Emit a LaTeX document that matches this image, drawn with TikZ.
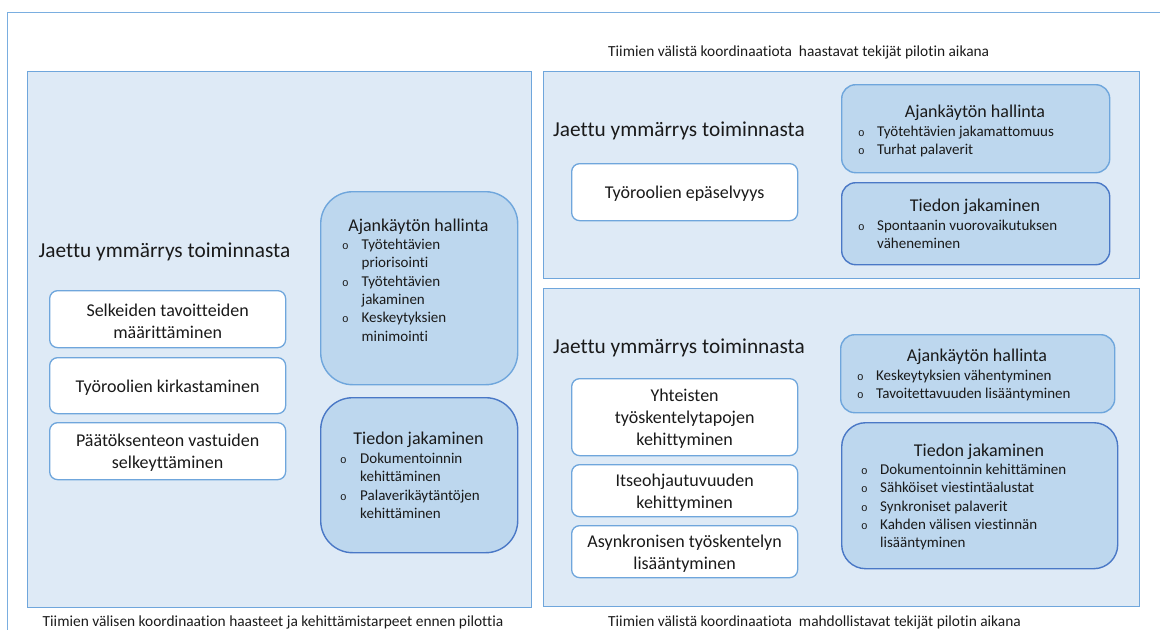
\documentclass[tikz,border=0pt]{standalone}
\usepackage{fontspec}
\setmainfont{Carlito}[Ligatures=NoCommon]
\newfontfamily\bulfont{Liberation Mono}

\definecolor{frameline}{HTML}{7AAEE0}
\definecolor{panelfill}{HTML}{DEEAF6}
\definecolor{panelline}{HTML}{6FA6DC}
\definecolor{boxfill}{HTML}{BDD7EE}
\definecolor{aline}{HTML}{6FA6DC}
\definecolor{tline}{HTML}{4A78C6}
\definecolor{wline}{HTML}{6FA6DC}
\definecolor{ink}{HTML}{1A1A1A}

% bullet of the sub-lists, followed by the indent of the item text
\newcommand{\bl}[1][19pt]{\makebox[#1][l]{\bulfont\fontsize{11}{11}\selectfont o}}

\tikzset{
  panel/.style={draw=panelline, fill=panelfill, line width=1.4pt, inner sep=0pt, anchor=north west},
  wbox/.style={draw=wline, fill=white, line width=1.3pt, rounded corners=8pt, inner sep=0pt, anchor=north west},
  abox/.style={draw=aline, fill=boxfill, line width=1.4pt, inner sep=0pt, anchor=north west},
  tbox/.style={draw=tline, fill=boxfill, line width=1.4pt, inner sep=0pt, anchor=north west},
  caption/.style={font=\fontsize{15.4}{18}\selectfont, text=ink, inner sep=0pt, anchor=base west},
  bigtitle/.style={font=\fontsize{21.3}{25}\selectfont, text=ink, inner sep=0pt, anchor=base west},
  wtext/.style={font=\fontsize{18}{22}\selectfont, text=ink, align=center, inner sep=0pt, yshift=-2pt},
  boxhead/.style={font=\fontsize{18}{22}\selectfont, text=ink, inner sep=0pt, anchor=base},
  blist/.style={font=\fontsize{15}{18.3}\selectfont, text=ink, inner sep=0pt, anchor=base west},
}

\begin{document}
\begin{tikzpicture}[x=1pt,y=-1pt]
\useasboundingbox (0,0) rectangle (1160,630);

% outer frame, running off the right and bottom edges
\coordinate (ftr) at (1160,12.5);
\coordinate (ftl) at (7.5,12.5);
\coordinate (fbl) at (7.5,630);
\draw[frameline, line width=1.5pt] (ftr) -- (ftl) -- (fbl);

% captions
\node[caption] (captop) at (608,56.5) {Tiimien välistä koordinaatiota\ \ haastavat tekijät pilotin aikana};
\node[caption] (capbl) at (42.5,626) {Tiimien välisen koordinaation haasteet ja kehittämistarpeet ennen pilottia};
\node[caption] (capbr) at (608,626) {Tiimien välistä koordinaatiota\ \ mahdollistavat tekijät pilotin aikana};

% ---------------- left panel: before the pilot ----------------
\node[panel, minimum width=504pt, minimum height=536pt] (lp) at (27,71) {};
\node[bigtitle] (lt) at (38.5,257.5) {Jaettu ymmärrys toiminnasta};

\node[wbox, minimum width=236pt, minimum height=57pt] (l1) at (49,290) {};
\node[wtext] (l1t) at (l1.center) {Selkeiden tavoitteiden\\määrittäminen};
\node[wbox, minimum width=236pt, minimum height=56pt] (l2) at (49,357) {};
\node[wtext] (l2t) at (l2.center) {Työroolien kirkastaminen};
\node[wbox, minimum width=236pt, minimum height=57pt] (l3) at (49,422) {};
\node[wtext] (l3t) at (l3.center) {Päätöksenteon vastuiden\\selkeyttäminen};

\node[abox, rounded corners=32pt, minimum width=197pt, minimum height=193pt] (la) at (320,191) {};
\node[boxhead] (lah) at (418.5,231.5) {Ajankäytön hallinta};
\node[blist] (lal) at (342,249.5) {\begin{tabular}[t]{@{}l@{}l@{}}
\bl[19.5pt] & Työtehtävien\\ & priorisointi\\
\bl[19.5pt] & Työtehtävien\\ & jakaminen\\
\bl[19.5pt] & Keskeytyksien\\ & minimointi
\end{tabular}};

\node[tbox, rounded corners=32pt, minimum width=197pt, minimum height=155pt] (lb) at (320,397) {};
\node[boxhead] (lbh) at (418.5,444.5) {Tiedon jakaminen};
\node[blist] (lbl) at (340,463.5) {\begin{tabular}[t]{@{}l@{}l@{}}
\bl[20pt] & Dokumentoinnin\\ & kehittäminen\\
\bl[20pt] & Palaverikäytäntöjen\\ & kehittäminen
\end{tabular}};

% ---------------- right top panel: challenging factors ----------------
\node[panel, minimum width=596pt, minimum height=207pt] (rt) at (543,71) {};
\node[bigtitle] (rtt) at (553,136.5) {Jaettu ymmärrys toiminnasta};

\node[wbox, minimum width=226pt, minimum height=57pt] (rt1) at (571,163) {};
\node[wtext] (rt1t) at (rt1.center) {Työroolien epäselvyys};

\node[abox, rounded corners=14pt, minimum width=268pt, minimum height=88pt] (ra) at (841,84) {};
\node[boxhead] (rah) at (975,117.5) {Ajankäytön hallinta};
\node[blist] (ral) at (858,136.5) {\begin{tabular}[t]{@{}l@{}l@{}}
\bl[19pt] & Työtehtävien jakamattomuus\\
\bl[19pt] & Turhat palaverit
\end{tabular}};

\node[tbox, rounded corners=14pt, minimum width=268pt, minimum height=82pt] (rb) at (841,182) {};
\node[boxhead] (rbh) at (975,211.5) {Tiedon jakaminen};
\node[blist] (rbl) at (858,230.5) {\begin{tabular}[t]{@{}l@{}l@{}}
\bl[19pt] & Spontaanin vuorovaikutuksen\\ & väheneminen
\end{tabular}};

% ---------------- right bottom panel: enabling factors ----------------
\node[panel, minimum width=596pt, minimum height=318pt] (rd) at (543,288) {};
\node[bigtitle] (rdt) at (553,353.5) {Jaettu ymmärrys toiminnasta};

\node[wbox, minimum width=226pt, minimum height=77pt] (rd1) at (571,378) {};
\node[wtext] (rd1t) at (rd1.center) {Yhteisten\\työskentelytapojen\\kehittyminen};
\node[wbox, minimum width=226pt, minimum height=52pt] (rd2) at (571,464) {};
\node[wtext] (rd2t) at (rd2.center) {Itseohjautuvuuden\\kehittyminen};
\node[wbox, minimum width=226pt, minimum height=52pt] (rd3) at (571,525) {};
\node[wtext] (rd3t) at (rd3.center) {Asynkronisen työskentelyn\\lisääntyminen};

\node[abox, rounded corners=14pt, minimum width=274pt, minimum height=78pt] (rc) at (840,334) {};
\node[boxhead] (rch) at (977,361.5) {Ajankäytön hallinta};
\node[blist] (rcl) at (857,380.5) {\begin{tabular}[t]{@{}l@{}l@{}}
\bl[19pt] & Keskeytyksien vähentyminen\\
\bl[19pt] & Tavoitettavuuden lisääntyminen
\end{tabular}};

\node[tbox, rounded corners=24pt, minimum width=276pt, minimum height=146pt] (re) at (841,422) {};
\node[boxhead] (reh) at (979,456.5) {Tiedon jakaminen};
\node[blist] (rel) at (861,474.5) {\begin{tabular}[t]{@{}l@{}l@{}}
\bl[19pt] & Dokumentoinnin kehittäminen\\
\bl[19pt] & Sähköiset viestintäalustat\\
\bl[19pt] & Synkroniset palaverit\\
\bl[19pt] & Kahden välisen viestinnän\\ & lisääntyminen
\end{tabular}};

\end{tikzpicture}
\end{document}
